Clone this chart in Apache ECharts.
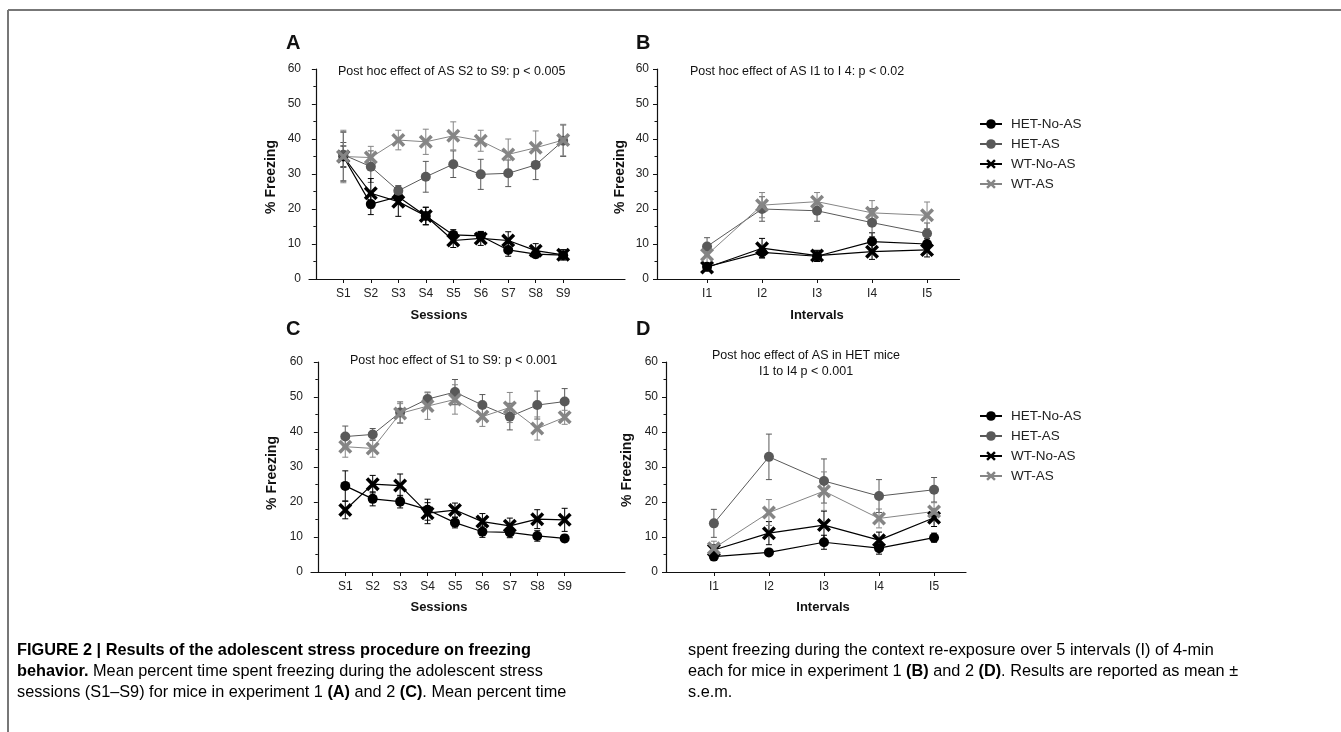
<!DOCTYPE html>
<html>
<head>
<meta charset="utf-8">
<script src="https://cdn.jsdelivr.net/npm/echarts@6/dist/echarts.min.js"></script>
<style>
  html, body { margin: 0; padding: 0; background: #fff; }
  #main { width: 1341px; height: 732px; }
</style>
</head>
<body>
<div id="main"></div>
<script>
var sessions = ['S1', 'S2', 'S3', 'S4', 'S5', 'S6', 'S7', 'S8', 'S9'];
var intervals = ['I1', 'I2', 'I3', 'I4', 'I5'];
var groups = ['HET-No-AS', 'HET-AS', 'WT-No-AS', 'WT-AS'];

// A: experiment 1, sessions
var aHetNoAs = [35, 21.4, 23.5, 18, 12.6, 12.3, 8.3, 7.1, 6.8];
var aHetNoAsErr = [7, 3, 2, 2.5, 1.5, 1.2, 1.8, 1, 1];
var aHetAs = [35.5, 32.1, 25.2, 29.2, 32.8, 29.9, 30.2, 32.6, 39.5];
var aHetAsErr = [3.5, 4.5, 1.5, 4.4, 3.8, 4.3, 3.8, 4.2, 4.5];
var aWtNoAs = [35, 24.5, 22.1, 18, 11, 11.6, 11, 8.1, 6.9];
var aWtNoAsErr = [3, 4.2, 4.2, 2.5, 2, 2, 2.5, 2, 1.5];
var aWtAs = [35, 34.7, 39.7, 39.2, 40.9, 39.5, 35.6, 37.5, 39.7];
var aWtAsErr = [7.5, 3.2, 2.8, 3.6, 4, 3, 4.4, 4.8, 4.5];

// B: experiment 1, intervals
var bHetNoAs = [3.5, 7.6, 6.5, 10.7, 10];
var bHetNoAsErr = [1, 1.5, 1.5, 2.5, 1.5];
var bHetAs = [9.3, 20, 19.5, 16.1, 13];
var bHetAsErr = [2.5, 3.5, 3, 4, 3];
var bWtNoAs = [3.3, 8.8, 6.7, 7.8, 8.3];
var bWtNoAsErr = [1, 2.8, 1.5, 2.2, 2];
var bWtAs = [6.9, 21.1, 22.1, 18.9, 18.2];
var bWtAsErr = [2.5, 3.6, 2.6, 3.5, 3.8];

// C: experiment 2, sessions
var cHetNoAs = [24.6, 20.9, 20.1, 17.8, 14.1, 11.5, 11.3, 10.3, 9.6];
var cHetNoAsErr = [4.3, 2, 1.8, 3, 1.5, 1.6, 1.5, 1.5, 1];
var cHetAs = [38.7, 39.3, 45.6, 49.4, 51.4, 47.7, 44.4, 47.7, 48.7];
var cHetAsErr = [3, 1.7, 3, 2, 3.6, 3, 3.8, 4, 3.7];
var cWtNoAs = [17.7, 25.1, 24.7, 16.8, 17.7, 14.4, 13.2, 15.1, 14.9];
var cWtNoAsErr = [2.5, 2.5, 3.3, 3, 2, 2.3, 2.2, 2.7, 3.3];
var cWtAs = [35.8, 35.3, 45.3, 47.4, 49.3, 44.4, 47, 41, 44.2];
var cWtAsErr = [3, 2.5, 2.8, 3.8, 4.2, 2.8, 4.3, 3.3, 2];

// D: experiment 2, intervals
var dHetNoAs = [4.4, 5.6, 8.5, 6.8, 9.8];
var dHetNoAsErr = [1, 0.5, 2, 1.7, 1.3];
var dHetAs = [13.9, 32.9, 26, 21.7, 23.5];
var dHetAsErr = [4, 6.5, 6.3, 4.7, 3.5];
var dWtNoAs = [6.3, 11.1, 13.4, 9.1, 15.5];
var dWtNoAsErr = [1.5, 3.3, 4, 2.3, 2.5];
var dWtAs = [6.8, 17, 23.1, 15.3, 17.3];
var dWtAsErr = [2, 3.7, 5.5, 2.7, 2.5];

// filled "x" marker
var xPath = 'path://M0,1.8 L1.8,0 L5,3.2 L8.2,0 L10,1.8 L6.8,5 L10,8.2 L8.2,10 L5,6.8 L1.8,10 L0,8.2 L3.2,5 Z';
var looks = {
    'HET-No-AS': { color: '#000', symbol: 'circle', size: 10, width: 1.2 },
    'HET-AS': { color: '#595959', symbol: 'circle', size: 10, width: 1 },
    'WT-No-AS': { color: '#000', symbol: xPath, size: 14, width: 1.2 },
    'WT-AS': { color: '#858585', symbol: xPath, size: 14, width: 1 }
};

var myChart = echarts.init(document.getElementById('main'));
var font = 'Arial, "Liberation Sans", Helvetica, sans-serif';

function pts(vals, errs) {
    return vals.map(function(v, i) { return [i + 1, v, errs[i]]; });
}

function xAxisFor(gi, labels, min, max) {
    var ticks = labels.map(function(l, i) { return i + 1; });
    return {
        type: 'value', gridIndex: gi, min: min, max: max,
        splitLine: { show: false },
        axisLine: { lineStyle: { color: '#111', width: 1.2 } },
        axisTick: { show: true, customValues: ticks, length: 4, lineStyle: { color: '#111' } },
        axisLabel: {
            customValues: ticks, margin: 9, color: '#222', fontSize: 12, fontFamily: font,
            formatter: function(v) { return labels[Math.round(v) - 1] || ''; }
        }
    };
}

function yAxisFor(gi) {
    return {
        type: 'value', gridIndex: gi, min: 0, max: 60, interval: 10,
        splitLine: { show: false },
        axisLine: { show: true, lineStyle: { color: '#111', width: 1.2 } },
        axisTick: { show: true, length: 4, lineStyle: { color: '#111' } },
        minorTick: { show: true, splitNumber: 2, length: 2.5, lineStyle: { color: '#111' } },
        axisLabel: { margin: 8, color: '#222', fontSize: 12, fontFamily: font }
    };
}

var series = [];
function panel(gi, sets) {
    // error bars first, so the markers sit on top
    sets.forEach(function(s, k) {
        var lk = looks[groups[k]];
        series.push({
            type: 'custom', xAxisIndex: gi, yAxisIndex: gi, z: 2,
            data: pts(s[0], s[1]), encode: { x: 0, y: 1 }, silent: true,
            renderItem: function(params, api) {
                var x = api.value(0), y = api.value(1), e = api.value(2);
                var t = api.coord([x, y + e]);
                var b = api.coord([x, y - e]);
                var st = { stroke: lk.color, lineWidth: 1 };
                return { type: 'group', children: [
                    { type: 'line', shape: { x1: t[0], y1: t[1], x2: b[0], y2: b[1] }, style: st },
                    { type: 'line', shape: { x1: t[0] - 3, y1: t[1], x2: t[0] + 3, y2: t[1] }, style: st },
                    { type: 'line', shape: { x1: b[0] - 3, y1: b[1], x2: b[0] + 3, y2: b[1] }, style: st }
                ] };
            }
        });
    });
    sets.forEach(function(s, k) {
        var name = groups[k];
        var lk = looks[name];
        series.push({
            type: 'line', name: name, xAxisIndex: gi, yAxisIndex: gi, z: 3,
            data: s[0].map(function(v, i) { return [i + 1, v]; }),
            symbol: lk.symbol, symbolSize: lk.size, showSymbol: true,
            itemStyle: { color: lk.color },
            lineStyle: { color: lk.color, width: lk.width }
        });
    });
}

panel(0, [[aHetNoAs, aHetNoAsErr], [aHetAs, aHetAsErr], [aWtNoAs, aWtNoAsErr], [aWtAs, aWtAsErr]]);
panel(1, [[bHetNoAs, bHetNoAsErr], [bHetAs, bHetAsErr], [bWtNoAs, bWtNoAsErr], [bWtAs, bWtAsErr]]);
panel(2, [[cHetNoAs, cHetNoAsErr], [cHetAs, cHetAsErr], [cWtNoAs, cWtNoAsErr], [cWtAs, cWtAsErr]]);
panel(3, [[dHetNoAs, dHetNoAsErr], [dHetAs, dHetAsErr], [dWtNoAs, dWtNoAsErr], [dWtAs, dWtAsErr]]);

function txt(x, y, s, opt) {
    opt = opt || {};
    return {
        type: 'text', x: x, y: y, rotation: opt.rot || 0, silent: true,
        style: {
            text: s, fill: '#111', align: opt.align || 'left', verticalAlign: 'middle',
            font: (opt.bold ? 'bold ' : '') + (opt.size || 12) + 'px ' + font
        }
    };
}

var cap = { color: '#231f20', lineHeight: 21, fontSize: 16.3, fontFamily: font };
var capB = { color: '#231f20', lineHeight: 21, fontSize: 16.3, fontFamily: font, fontWeight: 'bold' };
var graphics = [
    { type: 'line', shape: { x1: 8, y1: 10, x2: 1341, y2: 10 }, style: { stroke: '#777', lineWidth: 2 } },
    { type: 'line', shape: { x1: 8, y1: 10, x2: 8, y2: 732 }, style: { stroke: '#777', lineWidth: 2 } },
    txt(286, 43, 'A', { bold: true, size: 20 }),
    txt(636, 43, 'B', { bold: true, size: 20 }),
    txt(286, 329, 'C', { bold: true, size: 20 }),
    txt(636, 329, 'D', { bold: true, size: 20 }),
    txt(338, 72, 'Post hoc effect of AS S2 to S9: p < 0.005', { size: 12.5 }),
    txt(690, 72, 'Post hoc effect of AS I1 to I 4: p < 0.02', { size: 12.5 }),
    txt(350, 361, 'Post hoc effect of S1 to S9: p < 0.001', { size: 12.5 }),
    txt(806, 356, 'Post hoc effect of AS in HET mice', { size: 12.5, align: 'center' }),
    txt(806, 372, 'I1 to I4 p < 0.001', { size: 12.5, align: 'center' }),
    txt(271, 177, '% Freezing', { bold: true, size: 14, rot: Math.PI / 2, align: 'center' }),
    txt(620, 177, '% Freezing', { bold: true, size: 14, rot: Math.PI / 2, align: 'center' }),
    txt(272, 473, '% Freezing', { bold: true, size: 14, rot: Math.PI / 2, align: 'center' }),
    txt(627, 470, '% Freezing', { bold: true, size: 14, rot: Math.PI / 2, align: 'center' }),
    txt(439, 315, 'Sessions', { bold: true, size: 13, align: 'center' }),
    txt(817, 315, 'Intervals', { bold: true, size: 13, align: 'center' }),
    txt(439, 607, 'Sessions', { bold: true, size: 13, align: 'center' }),
    txt(823, 607, 'Intervals', { bold: true, size: 13, align: 'center' }),
    {
        type: 'text', x: 17, y: 640, silent: true,
        style: {
            text: '{b|FIGURE 2 | Results of the adolescent stress procedure on freezing}\n' +
                  '{b|behavior.}{n| Mean percent time spent freezing during the adolescent stress}\n' +
                  '{n|sessions (S1–S9) for mice in experiment 1 }{b|(A)}{n| and 2 }{b|(C)}{n|. Mean percent time}',
            rich: { b: capB, n: cap }
        }
    },
    {
        type: 'text', x: 688, y: 640, silent: true,
        style: {
            text: '{n|spent freezing during the context re-exposure over 5 intervals (I) of 4-min}\n' +
                  '{n|each for mice in experiment 1 }{b|(B)}{n| and 2 }{b|(D)}{n|. Results are reported as mean ±}\n' +
                  '{n|s.e.m.}',
            rich: { b: capB, n: cap }
        }
    }
];

var legendBase = {
    orient: 'vertical', left: 979, padding: 0, itemWidth: 22, itemHeight: 12, itemGap: 6,
    data: groups, selectedMode: false,
    textStyle: { color: '#222', fontSize: 13.5, fontFamily: font, padding: [0, 0, 0, 4] }
};

var option = {
    animation: false,
    grid: [
        { left: 309, top: 69, width: 316, height: 210 },
        { left: 657, top: 69, width: 302.5, height: 210 },
        { left: 311, top: 362, width: 314, height: 210 },
        { left: 666, top: 362, width: 300, height: 210 }
    ],
    xAxis: [
        xAxisFor(0, sessions, -0.25, 11.25),
        xAxisFor(1, intervals, 0.09, 5.59),
        xAxisFor(2, sessions, -0.25, 11.2),
        xAxisFor(3, intervals, 0.13, 5.58)
    ],
    yAxis: [yAxisFor(0), yAxisFor(1), yAxisFor(2), yAxisFor(3)],
    legend: [
        Object.assign({ top: 117 }, legendBase),
        Object.assign({ top: 409 }, legendBase)
    ],
    graphic: graphics,
    series: series
};

myChart.setOption(option);
</script>
</body>
</html>
